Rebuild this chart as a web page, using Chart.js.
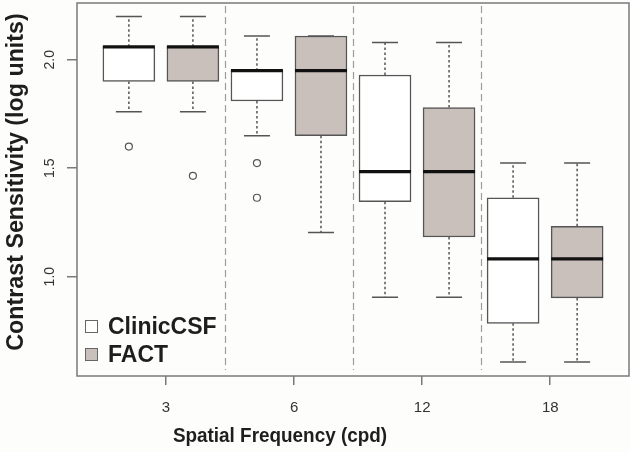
<!DOCTYPE html>
<html>
<head>
<meta charset="utf-8">
<script src="https://cdn.jsdelivr.net/npm/chart.js@4.4.1/dist/chart.umd.min.js"></script>
<style>
  html, body { margin: 0; padding: 0; background: #fdfdfc; }
  #wrap { width: 630px; height: 452px; }
</style>
</head>
<body>
<div id="wrap"><canvas id="boxplot" width="630" height="452"></canvas></div>
<script>
/* Contrast sensitivity boxplot: ClinicCSF vs FACT */

// Categories / series
const FREQS  = ['3', '6', '12', '18'];
const SERIES = ['ClinicCSF', 'FACT'];
const Y_TICKS = [1.0, 1.5, 2.0];

// ClinicCSF (log units)
const clinicLow  = [1.76, 1.65, 0.905, 0.607];
const clinicQ1   = [1.90, 1.81, 1.346, 0.785];
const clinicMed  = [2.06, 1.95, 1.484, 1.082];
const clinicQ3   = [2.06, 1.95, 1.93, 1.364];
const clinicHigh = [2.20, 2.11, 2.08, 1.524];
const clinicOut  = [[1.60], [1.524, 1.364], [], []];

// FACT (log units)
const factLow  = [1.76, 1.204, 0.905, 0.607];
const factQ1   = [1.90, 1.65, 1.183, 0.902];
const factMed  = [2.06, 1.95, 1.484, 1.082];
const factQ3   = [2.06, 2.11, 1.78, 1.232];
const factHigh = [2.20, 2.11, 2.08, 1.524];
const factOut  = [[1.465], [], [], []];

// Paleta
const COLORS = {
  bg:      '#fdfdfc',
  clinic:  '#ffffff',
  fact:    '#c9c0bb',
  edge:    '#555555',
  median:  '#111111',
  frame:   '#7a7a7a',
  sep:     '#9c9c9c',
  tick:    '#333333',
  title:   '#1e1e1e'
};
const FONT = "'Liberation Sans', Arial, Helvetica, sans-serif";

const SUMMARY = [
  { low: clinicLow, q1: clinicQ1, med: clinicMed, q3: clinicQ3, high: clinicHigh, out: clinicOut },
  { low: factLow,   q1: factQ1,   med: factMed,   q3: factQ3,   high: factHigh,   out: factOut }
];

// box position on the x axis: two boxes per frequency
const pos = (g, s) => g * 2 + 1 + s;
const TICK_NUDGE = 0.08;

const boxData = s => SUMMARY[s].q1.map((v, g) => ({ x: pos(g, s), y: [v, SUMMARY[s].q3[g]] }));
const outData = () => {
  const pts = [];
  SUMMARY.forEach((s, si) => s.out.forEach((vals, g) => vals.forEach(v => pts.push({ x: pos(g, si), y: v }))));
  return pts;
};

// ── Plugin: whiskers, medians, separators, frame, texts ─────────
const boxParts = {
  id: 'boxParts',
  beforeDraw(chart) {
    const { ctx, width, height } = chart;
    ctx.save();
    ctx.fillStyle = COLORS.bg;
    ctx.fillRect(0, 0, width, height);
    ctx.restore();
  },
  beforeDatasetsDraw(chart) {
    const { ctx, chartArea: a, scales: { x } } = chart;
    ctx.save();
    ctx.strokeStyle = COLORS.sep;
    ctx.lineWidth = 1.2;
    ctx.setLineDash([7, 4]);
    for (let g = 0; g < FREQS.length - 1; g++) {
      const px = Math.round(x.getPixelForValue(pos(g, 1) + 0.5)) + 0.5;
      ctx.beginPath();
      ctx.moveTo(px, a.top + 3);
      ctx.lineTo(px, a.bottom - 6);
      ctx.stroke();
    }
    ctx.restore();
  },
  afterDatasetsDraw(chart) {
    const { ctx, scales: { y } } = chart;
    ctx.save();
    SUMMARY.forEach((s, si) => {
      const meta = chart.getDatasetMeta(si);
      meta.data.forEach((bar, g) => {
        const cx = bar.x, half = bar.width / 2;
        const pHigh = y.getPixelForValue(s.high[g]);
        const pQ3   = y.getPixelForValue(s.q3[g]);
        const pQ1   = y.getPixelForValue(s.q1[g]);
        const pLow  = y.getPixelForValue(s.low[g]);
        const pMed  = y.getPixelForValue(s.med[g]);

        ctx.strokeStyle = COLORS.edge;
        ctx.lineWidth = 1.5;
        // dotted whiskers
        ctx.setLineDash([2.5, 2.5]);
        ctx.beginPath();
        if (pQ3 - pHigh > 1) { ctx.moveTo(cx, pQ3); ctx.lineTo(cx, pHigh); }
        if (pLow - pQ1 > 1)  { ctx.moveTo(cx, pQ1); ctx.lineTo(cx, pLow); }
        ctx.stroke();
        // caps
        ctx.setLineDash([]);
        ctx.beginPath();
        ctx.moveTo(cx - half / 2, pHigh); ctx.lineTo(cx + half / 2, pHigh);
        ctx.moveTo(cx - half / 2, pLow);  ctx.lineTo(cx + half / 2, pLow);
        ctx.stroke();
        // median
        ctx.strokeStyle = COLORS.median;
        ctx.lineWidth = 3.2;
        ctx.beginPath();
        ctx.moveTo(cx - half, pMed); ctx.lineTo(cx + half, pMed);
        ctx.stroke();
      });
    });
    ctx.restore();
  },
  afterDraw(chart) {
    const { ctx, chartArea: a, scales: { y } } = chart;
    ctx.save();
    // frame
    ctx.strokeStyle = COLORS.frame;
    ctx.lineWidth = 1.5;
    ctx.strokeRect(a.left, a.top, a.right - a.left, a.bottom - a.top);

    // y tick labels (rotated, R style)
    ctx.fillStyle = COLORS.tick;
    ctx.font = `14px ${FONT}`;
    ctx.textAlign = 'center';
    ctx.textBaseline = 'middle';
    Y_TICKS.forEach(v => {
      ctx.save();
      ctx.translate(50, y.getPixelForValue(v));
      ctx.rotate(-Math.PI / 2);
      ctx.fillText(v.toFixed(1), 0, 0);
      ctx.restore();
    });

    // axis titles
    ctx.fillStyle = COLORS.title;
    ctx.textBaseline = 'alphabetic';
    ctx.font = `bold 24px ${FONT}`;
    ctx.save();
    ctx.translate(23, 182);
    ctx.rotate(-Math.PI / 2);
    ctx.scale(0.97, 1);
    ctx.fillText('Contrast Sensitivity (log units)', 0, 0);
    ctx.restore();

    ctx.font = `bold 21px ${FONT}`;
    ctx.save();
    ctx.translate(280, 442);
    ctx.scale(0.9, 1);
    ctx.fillText('Spatial Frequency (cpd)', 0, 0);
    ctx.restore();

    // legend
    const fills = [COLORS.clinic, COLORS.fact];
    ctx.font = `bold 23px ${FONT}`;
    ctx.textAlign = 'left';
    SERIES.forEach((name, i) => {
      const base = 334 + i * 28;
      ctx.fillStyle = fills[i];
      ctx.fillRect(85, base - 14, 13, 13);
      ctx.strokeStyle = '#666';
      ctx.lineWidth = 1;
      ctx.strokeRect(85.5, base - 13.5, 12, 12);
      ctx.fillStyle = COLORS.title;
      ctx.fillText(name, 108, base);
    });
    ctx.restore();
  }
};

const ctx = document.getElementById('boxplot').getContext('2d');
new Chart(ctx, {
  type: 'bar',
  data: {
    datasets: [
      {
        label: SERIES[0],
        data: boxData(0),
        backgroundColor: COLORS.clinic,
        borderColor: COLORS.edge,
        borderWidth: 1.5,
        borderSkipped: false,
        barThickness: 52,
        grouped: false,
        order: 2
      },
      {
        label: SERIES[1],
        data: boxData(1),
        backgroundColor: COLORS.fact,
        borderColor: COLORS.edge,
        borderWidth: 1.5,
        borderSkipped: false,
        barThickness: 52,
        grouped: false,
        order: 2
      },
      {
        type: 'scatter',
        label: 'outliers',
        data: outData(),
        pointStyle: 'circle',
        pointRadius: 3.5,
        backgroundColor: 'transparent',
        borderColor: COLORS.edge,
        borderWidth: 1.2,
        order: 1
      }
    ]
  },
  options: {
    responsive: false,
    animation: false,
    layout: { autoPadding: false, padding: { top: 3, right: 1, left: 0, bottom: 0 } },
    plugins: { legend: { display: false }, tooltip: { enabled: false } },
    scales: {
      x: {
        type: 'linear',
        min: 0.19,
        max: 8.81,
        offset: false,
        afterBuildTicks: s => { s.ticks = FREQS.map((_, g) => ({ value: pos(g, 0) + 0.5 + TICK_NUDGE })); },
        afterFit: s => { s.height = 76; },
        ticks: {
          autoSkip: false,
          maxRotation: 0,
          padding: 14,
          color: COLORS.tick,
          font: { family: FONT, size: 15 },
          callback: (v, i) => FREQS[i]
        },
        grid: { offset: false, drawOnChartArea: false, drawTicks: true, tickLength: 9, color: COLORS.frame, lineWidth: 1.5 },
        border: { display: false }
      },
      y: {
        type: 'linear',
        min: 0.542,
        max: 2.262,
        afterBuildTicks: s => { s.ticks = Y_TICKS.map(v => ({ value: v })); },
        afterFit: s => { s.width = 77; },
        ticks: { display: false },
        grid: { drawOnChartArea: false, drawTicks: true, tickLength: 10, color: COLORS.frame, lineWidth: 1.5 },
        border: { display: false }
      }
    }
  },
  plugins: [boxParts]
});
</script>
</body>
</html>
